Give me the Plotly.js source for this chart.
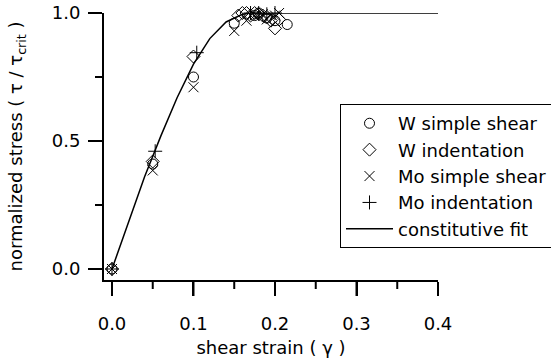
<!DOCTYPE html>
<html>
<head>
<meta charset="utf-8">
<script src="https://cdn.plot.ly/plotly-3.0.1.min.js"></script>
<style>html,body{margin:0;padding:0;background:#fff;}#chart{width:551px;height:362px;}</style>
</head>
<body>
<div id="chart"></div>
<script>
// Data
const wShearX = [0, 0.05, 0.10, 0.15, 0.175, 0.18, 0.19, 0.20, 0.215];
const wShearY = [0, 0.41, 0.75, 0.96, 0.99, 1.0, 0.98, 0.97, 0.955];

const wIndentX = [0, 0.05, 0.10, 0.155, 0.16, 0.165, 0.17, 0.175, 0.18, 0.185, 0.19, 0.195, 0.20, 0.205];
const wIndentY = [0, 0.42, 0.83, 0.99, 1.0, 1.0, 0.99, 1.0, 0.995, 0.99, 0.985, 0.97, 0.94, 0.975];

const moShearX = [0, 0.05, 0.10, 0.15, 0.165, 0.175, 0.185, 0.19, 0.20, 0.205];
const moShearY = [0, 0.385, 0.71, 0.93, 0.97, 0.99, 0.995, 0.975, 0.99, 1.0];

const moIndentX = [0, 0.053, 0.104, 0.17, 0.18, 0.19, 0.20];
const moIndentY = [0, 0.46, 0.845, 1.0, 1.0, 0.995, 1.0];

const fitX = [0, 0.02, 0.04, 0.06, 0.08, 0.10, 0.12, 0.14, 0.16, 0.17, 0.40];
const fitY = [0, 0.18, 0.36, 0.52, 0.67, 0.80, 0.90, 0.965, 0.995, 1.0, 1.0];

const names = ["W simple shear", "W indentation", "Mo simple shear", "Mo indentation", "constitutive fit"];

// axis tick positions (major / minor)
const xMajorTicks = [0, 0.1, 0.2, 0.3, 0.4];
const xMinorTicks = [0.05, 0.15, 0.25, 0.35];
const yMajorTicks = [0, 0.5, 1.0];
const yMinorTicks = [0.25, 0.75];

const FONT = "DejaVu Sans, sans-serif";
const W = 551, H = 362, M = {l: 104, r: 113, t: 13, b: 82};
const xRange = [-0.0098, 0.4], yRange = [-0.043, 1.0];
const plotW = W - M.l - M.r, plotH = H - M.t - M.b;

function markerTrace(x, y, name, symbol) {
  return {
    x: x, y: y, name: name, type: "scatter", mode: "markers", cliponaxis: false,
    marker: {symbol: symbol, size: 10, color: "black", line: {color: "black", width: 1}}
  };
}
const traces = [
  markerTrace(wShearX, wShearY, names[0], "circle-open"),
  markerTrace(wIndentX, wIndentY, names[1], "diamond-open"),
  markerTrace(moShearX, moShearY, names[2], "x-thin-open"),
  markerTrace(moIndentX, moIndentY, names[3], "cross-thin-open"),
  {x: fitX, y: fitY, name: names[4], type: "scatter", mode: "lines", cliponaxis: false,
   line: {color: "black", width: 1.5}}
];

// tick marks drawn as paper-referenced shapes (guaranteed visible outside the plot area)
const shapes = [];
function xTick(v, len) {
  const px = (v - xRange[0]) / (xRange[1] - xRange[0]);
  shapes.push({type: "line", xref: "paper", yref: "paper", layer: "above",
    x0: px, x1: px, y0: -2 / plotH, y1: -(2 + len) / plotH, line: {color: "black", width: 2}});
}
function yTick(v, len) {
  const py = (v - yRange[0]) / (yRange[1] - yRange[0]);
  shapes.push({type: "line", xref: "paper", yref: "paper", layer: "above",
    y0: py, y1: py, x0: -2 / plotW, x1: -(2 + len) / plotW, line: {color: "black", width: 2}});
}
xMajorTicks.forEach(v => xTick(v, 14));
xMinorTicks.forEach(v => xTick(v, 7));
yMajorTicks.forEach(v => yTick(v, 14));
yMinorTicks.forEach(v => yTick(v, 7));

const layout = {
  width: W, height: H,
  margin: {l: M.l, r: M.r, t: M.t, b: M.b, autoexpand: false},
  font: {family: FONT, size: 18, color: "black"},
  showlegend: true,
  legend: {
    x: 0.7066, y: 0.659, xanchor: "left", yanchor: "top",
    bordercolor: "black", borderwidth: 1, bgcolor: "white",
    font: {family: FONT, size: 18, color: "black"},
    itemwidth: 47
  },
  shapes: shapes,
  xaxis: {
    range: xRange, showgrid: false, zeroline: false,
    showline: true, linecolor: "black", linewidth: 2,
    tickvals: xMajorTicks, ticks: "outside", ticklen: 14, tickwidth: 2, tickcolor: "black",
    tickformat: ".1f", ticklabelstandoff: 12,
    title: {text: "shear strain ( γ )", font: {family: FONT, size: 18}, standoff: 9}
  },
  yaxis: {
    range: yRange, showgrid: false, zeroline: false,
    showline: true, linecolor: "black", linewidth: 2,
    tickvals: yMajorTicks, ticks: "outside", ticklen: 14, tickwidth: 2, tickcolor: "black",
    tickformat: ".1f", ticklabelstandoff: 4,
    title: {text: "normalized stress ( τ / τ<sub>crit</sub> )", font: {family: FONT, size: 18}, standoff: 24}
  }
};

Plotly.newPlot("chart", traces, layout, {displayModeBar: false});
</script>
</body>
</html>
